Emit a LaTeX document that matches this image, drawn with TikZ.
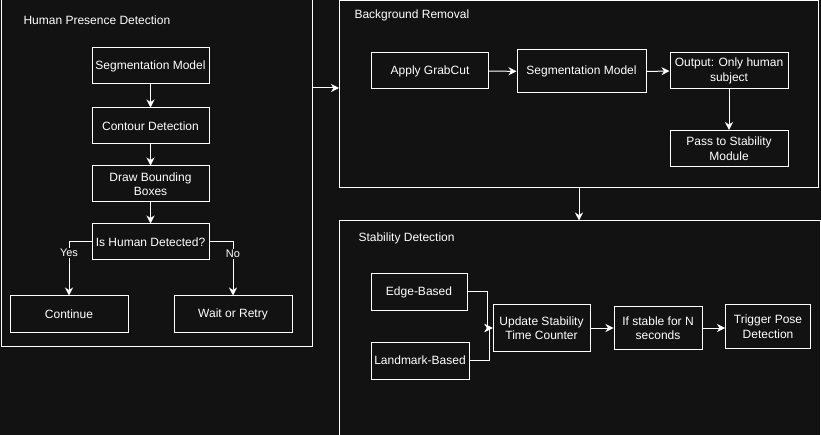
\documentclass[tikz,border=0pt]{standalone}
\usepackage{fontspec}
\setmainfont{Liberation Sans}
\usepackage{tikz}
\usetikzlibrary{arrows.meta}
\definecolor{canvas}{HTML}{121212}
\tikzset{
	block/.style  = {draw=white, line width=1pt, rectangle, inner sep=0pt, align=center,
		text=white, minimum width=117pt, minimum height=36pt},
	group/.style  = {draw=white, line width=1pt, rectangle, inner sep=0pt},
	title/.style  = {text=white, anchor=west, inner sep=0pt}, % group heading
	answer/.style = {text=white, fill=canvas, inner sep=1pt, font=\fontsize{11}{13}\selectfont} % Yes/No
}

\begin{document}
\begin{tikzpicture}[x=1pt, y=-1pt, line width=1pt, draw=white,
	>={Stealth[length=8pt,width=8pt,inset=2.5pt]}, font=\fontsize{12}{14.5}\selectfont]
	\fill[canvas] (0,0) rectangle (821,435);
	\useasboundingbox (0,0) rectangle (821,435);
	\clip (0,0) rectangle (821,435);
	
	% groups
	\draw
	node at (156.75,172.5)[group, minimum width=311.5pt, minimum height=347pt] (hpd) {}
	node at (579,94.5)[group, minimum width=479pt, minimum height=187pt] (br) {}
	node at (580,333)[group, minimum width=481pt, minimum height=224pt] (sd) {};
	\draw
	node at (23,20)[title] (hpdtitle) {Human Presence Detection}
	node at (354,15)[title] (brtitle) {Background Removal}
	node at (358,238)[title] (sdtitle) {Stability Detection};
	
	% human presence
	\draw
	node at (150.5,66)[block] (seg1) {Segmentation Model}
	node at (150.5,126)[block] (cont) {Contour Detection}
	node at (150.5,184)[block] (bbox) {Draw Bounding\\Boxes}
	node at (150.5,242)[block] (human) {Is Human Detected?}
	node at (69,314)[block, minimum width=118pt] (go) {Continue}
	node at (233,314)[block, minimum width=118pt] (wait) {Wait or Retry};
	
	\draw[->, white](seg1) -- (cont);
	\draw[->, white](cont) -- (bbox);
	\draw[->, white](bbox) -- (human);
	\draw[->, white](human.west) -| node[answer, pos=0.6] {Yes} (go.north);
	\draw[->, white](human.east) -| node[answer, pos=0.61] {No} (wait.north);
	
	% background removal
	\draw
	node at (430,71)[block] (grab) {Apply GrabCut}
	node at (581.5,71.5)[block, minimum width=129pt, minimum height=43pt] (seg2) {Segmentation Model}
	node at (729,71)[block, minimum width=118pt] (subj) {Output: Only human\\subject}
	node at (729,148.5)[block, minimum width=118pt] (pass) {Pass to Stability\\Module};
	
	\draw[->, white](grab) -- (seg2);
	\draw[->, white](seg2.east) -- (subj.west);
	\draw[->, white](subj) -- (pass);
	
	% stability
	\draw
	node at (419,292)[block, minimum width=96pt] (edgeb) {Edge-Based}
	node at (420,360.5)[block, minimum width=98pt, minimum height=37pt] (markb) {Landmark-Based}
	node at (541.5,328)[block, minimum width=97pt, minimum height=46pt] (upd) {Update Stability\\Time Counter}
	node at (658,328)[block, minimum width=88pt, minimum height=43pt] (stab) {If stable for N\\seconds}
	node at (768,326.5)[block, minimum width=85pt, minimum height=43pt] (pose) {Trigger Pose\\Detection};
	
	\draw[->, white](edgeb.east) -- ++(19.5,0) |- (upd.west);
	\draw[->, white](markb.east) -- ++(20,0) |- (upd.west);
	\draw[->, white](upd) -- (stab);
	\draw[->, white](stab.east) -- (stab.east -| pose.west);
	
	% between groups
	\coordinate (link) at (0,88);
	\draw[->, white](hpd.east |- link) -- (br.west |- link);
	\draw[->, white](br.south) -- (br.south |- sd.north);
\end{tikzpicture}
\end{document}
